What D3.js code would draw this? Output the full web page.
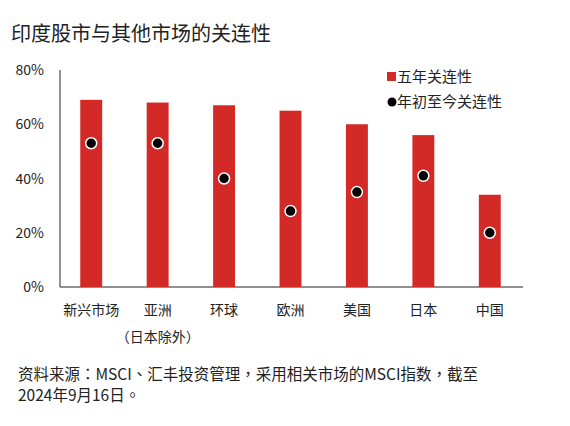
<!DOCTYPE html>
<html><head><meta charset="utf-8">
<script src="https://cdn.jsdelivr.net/npm/d3@7"></script>
<style>body{margin:0;background:#fff;font-family:"Noto Sans CJK TC","Noto Sans",sans-serif;}</style>
</head><body><svg id="chart" width="570" height="426"></svg>
<script>
const categories = ['新兴市场', '亚洲', '环球', '欧洲', '美国', '日本', '中国'];
const fiveYear = [69, 68, 67, 65, 60, 56, 34];
const ytd = [53, 53, 40, 28, 35, 41, 20];
const yTicks = [0, 20, 40, 60, 80];

const svg = d3.select('#chart');
const red = '#d42a27';

// Title
svg.append('text').attr('x', 11).attr('y', 41)
    .style('font-size', '20px').attr('fill', '#222').text('印度股市与其他市场的关连性');

const x = d3.scaleBand().domain(categories).range([58, 523]).paddingInner(0.67).paddingOuter(0.335);
const y = d3.scaleLinear().domain([0, 80]).range([287, 70]);

// Axes
svg.append('line').attr('x1', 60).attr('x2', 60).attr('y1', 70).attr('y2', 287).attr('stroke', '#222');
svg.append('line').attr('x1', 60).attr('x2', 523).attr('y1', 287).attr('y2', 287).attr('stroke', '#222');
svg.selectAll('.ytick').data(yTicks).enter().append('text')
    .attr('x', 44).attr('y', d => y(d) + 5).attr('text-anchor', 'end')
    .style('font-size', '14px').attr('fill', '#222').text(d => d + '%');

// Bars
svg.selectAll('.bar').data(categories).enter().append('rect')
    .attr('x', d => x(d)).attr('width', x.bandwidth())
    .attr('y', (d, i) => y(fiveYear[i])).attr('height', (d, i) => y(0) - y(fiveYear[i]))
    .attr('fill', red);

// Dots
svg.selectAll('.dot').data(categories).enter().append('circle')
    .attr('cx', d => x(d) + x.bandwidth() / 2).attr('cy', (d, i) => y(ytd[i]))
    .attr('r', 5.5).attr('fill', '#000').attr('stroke', '#fff').attr('stroke-width', 1.5);

// X labels
svg.selectAll('.xl').data(categories).enter().append('text')
    .attr('x', d => x(d) + x.bandwidth() / 2).attr('y', 315).attr('text-anchor', 'middle')
    .style('font-size', '14px').attr('fill', '#222').text(d => d);
svg.append('text').attr('x', x('亚洲') + x.bandwidth() / 2).attr('y', 342).attr('text-anchor', 'middle')
    .style('font-size', '14px').attr('fill', '#222').text('（日本除外）');

// Legend
svg.append('rect').attr('x', 387).attr('y', 72).attr('width', 9).attr('height', 9).attr('fill', red);
svg.append('text').attr('x', 397).attr('y', 82).style('font-size', '15px').attr('fill', '#222').text('五年关连性');
svg.append('circle').attr('cx', 392).attr('cy', 102).attr('r', 4.5).attr('fill', '#000');
svg.append('text').attr('x', 397).attr('y', 107).style('font-size', '15px').attr('fill', '#222').text('年初至今关连性');

// Footer
svg.append('text').attr('x', 18).attr('y', 380).style('font-size', '15.5px').attr('fill', '#222')
    .text('资料来源：MSCI、汇丰投资管理，采用相关市场的MSCI指数，截至');
svg.append('text').attr('x', 18).attr('y', 401).style('font-size', '15.5px').attr('fill', '#222')
    .text('2024年9月16日。');
</script></body></html>
